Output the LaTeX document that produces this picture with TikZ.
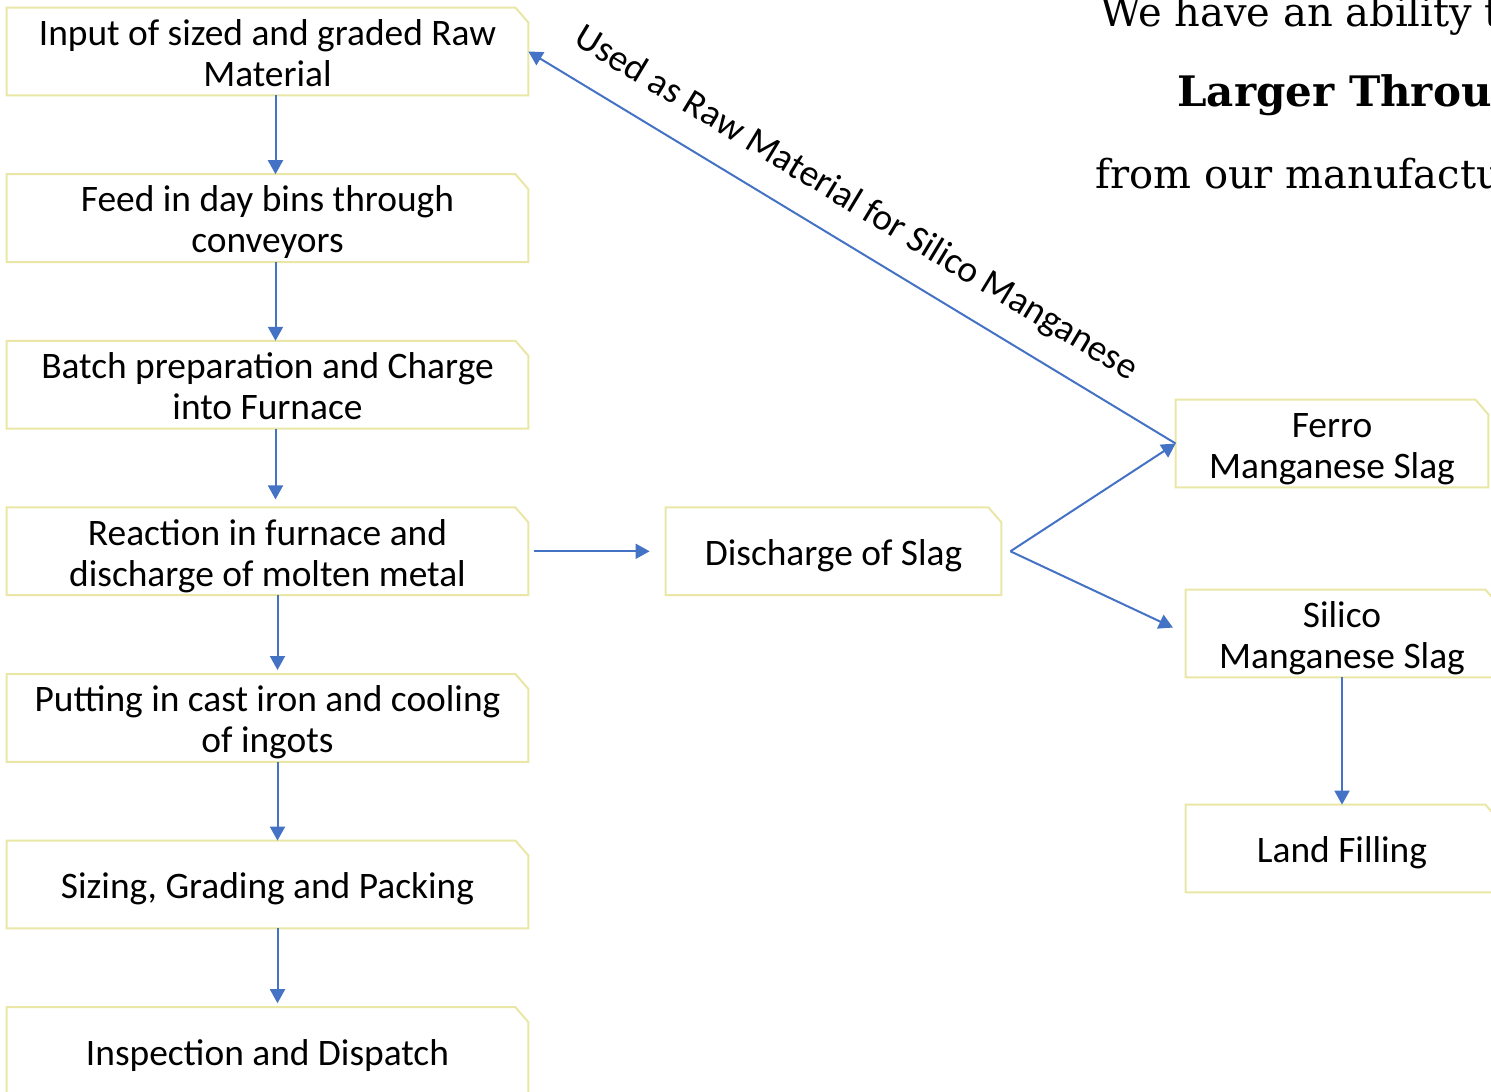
\documentclass[tikz,border=0pt]{standalone}
\usepackage{fontspec}
\setmainfont{Carlito}
\newfontfamily\pagefont{DejaVu Serif}
\usepackage{xcolor}
\usepackage{tikz}
\usetikzlibrary{positioning,arrows.meta}
\definecolor{flowblue}{HTML}{4472C4}
\definecolor{boxline}{HTML}{E9E6A6}

% text set a little below the box centre, as in the original
\newcommand{\steptext}[1]{\raisebox{-3pt}[\height][\depth]{\begin{tabular}{@{}c@{}}#1\end{tabular}}}

\tikzset{
    flowtip/.tip={Triangle[length=7pt,width=7.5pt]},
    stage/.style={rectangle, inner sep=0pt,
        minimum width=260.5pt, minimum height=43.5pt,
        font=\fontsize{18.7}{20.5}\selectfont,
        append after command={\pgfextra{\draw[boxline, line width=1pt]
            (\tikzlastnode.south west) -- (\tikzlastnode.north west)
            -- ([xshift=-6.5pt]\tikzlastnode.north east)
            -- ([yshift=-7.5pt]\tikzlastnode.north east)
            -- (\tikzlastnode.south east) -- cycle;}}},
    slag/.style={stage, minimum width=156pt},
    flow/.style={-flowtip, draw=flowblue, line width=1pt},
    pagetext/.style={anchor=base west, inner sep=0pt}
}

\begin{document}
\begin{tikzpicture}[x=0.5pt,y=-0.5pt,node distance=83.3pt,on grid]
        \useasboundingbox (0,0) rectangle (1491,1091);
        \clip (0,0) rectangle (1491,1091);

        % main process column
        \node[stage] (input)    at (267.5,51.5)     {\steptext{Input of sized and graded Raw\\Material}};
        \node[stage] (feed)     [below=of input]    {\steptext{Feed in day bins through\\conveyors}};
        \node[stage] (batch)    [below=of feed]     {\steptext{Batch preparation and Charge\\into Furnace}};
        \node[stage] (reaction) [below=of batch]    {\steptext{Reaction in furnace and\\discharge of molten metal}};
        \node[stage] (casting)  [below=of reaction] {\steptext{Putting in cast iron and cooling\\of ingots}};
        \node[stage] (sizing)   [below=of casting]  {\steptext{Sizing, Grading and Packing}};
        \node[stage] (dispatch) [below=of sizing]   {\steptext{Inspection and Dispatch}};

        % slag branch
        \node[stage, minimum width=167.5pt] (slag) [right=283pt of reaction] {\steptext{Discharge of Slag}};
        \node[slag]  (ferro)    at (1332,443.5)     {\steptext{Ferro\\Manganese Slag}};
        \node[slag]  (silico)   at (1342,633.5)     {\steptext{Silico\\Manganese Slag}};
        \node[slag]  (land)     [below=107.5pt of silico] {\steptext{Land Filling}};
        \coordinate  (fork)     at ([xshift=4.5pt]slag.east);

        % page text behind the chart
        \node[pagetext, font=\pagefont\fontsize{20}{24}\selectfont] (ability) at (1100,27) {We have an ability t};
        \node[pagetext, font=\pagefont\bfseries\fontsize{21}{25}\selectfont] (larger) at (1177,107) {Larger Throu};
        \node[pagetext, font=\pagefont\fontsize{20}{24}\selectfont] (manuf) at (1095,189) {from our manufactu};

        \draw[flow] ([xshift=4pt]input.south)    -- ([xshift=4pt]feed.north);
        \draw[flow] ([xshift=4pt]feed.south)     -- ([xshift=4pt]batch.north);
        \draw[flow, shorten >=4pt] ([xshift=4pt]batch.south) -- ([xshift=4pt]reaction.north);
        \draw[flow, shorten >=2pt] ([xshift=5pt]reaction.south) -- ([xshift=5pt]casting.north);
        \draw[flow] ([xshift=5pt]casting.south)  -- ([xshift=5pt]sizing.north);
        \draw[flow, shorten >=2pt] ([xshift=5pt]sizing.south) -- ([xshift=5pt]dispatch.north);

        \draw[flow, shorten <=3pt, shorten >=8pt] (reaction.east) -- (slag.west);
        \draw[flow] (fork) -- (ferro.west);
        \draw[flow, shorten >=7pt] (fork) -- (silico.west);
        \draw[flow] (silico.south) -- (land.north);

        \draw[flow, flowtip-] (input.east) -- node[sloped, anchor=south, inner sep=0pt, yshift=11pt, pos=0.475,
            font=\fontsize{18.7}{20.5}\selectfont] {Used as Raw Material for Silico Manganese} (ferro.west);

    \end{tikzpicture}
\end{document}
